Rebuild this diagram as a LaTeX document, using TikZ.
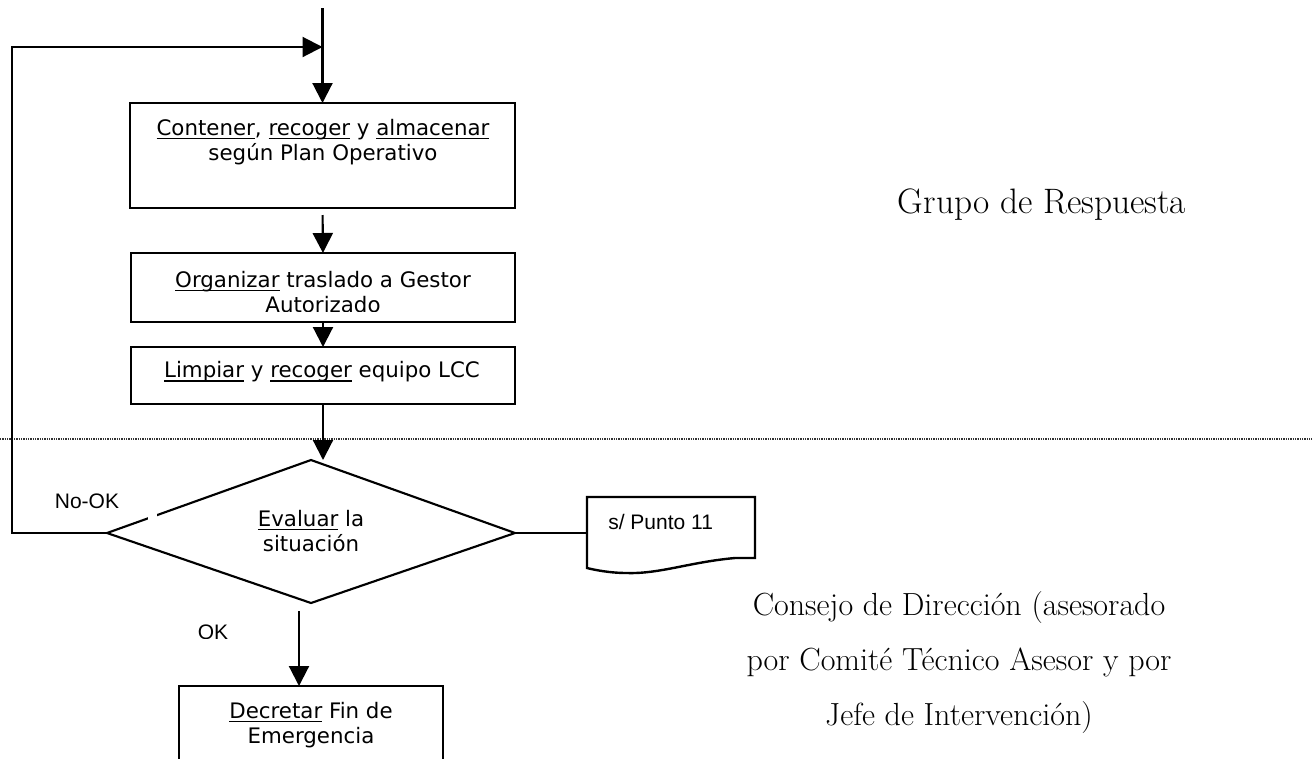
\documentclass[tikz,border=0pt]{standalone}
\usepackage{fontspec}
\newfontfamily\dvs{DejaVu Sans}
\newfontfamily\lbs{Liberation Sans}
\usetikzlibrary{arrows.meta}
\newsavebox\ulbox
\newcommand{\ulx}[1]{\sbox\ulbox{#1}\rlap{\rule[-3pt]{\wd\ulbox}{1.2pt}}\usebox\ulbox}
\begin{document}
\begin{tikzpicture}[x=0.75pt, y=-0.75pt,
  box/.style={draw, line width=1.8pt, inner sep=0pt, outer sep=0pt},
  conn/.style={line width=1.6pt},
  arr/.style={conn, -{Triangle[length=15pt,width=15pt]}},
  btxt/.style={font=\dvs\fontsize{16}{18.75}\selectfont, align=center, inner sep=0pt},
  lbl/.style={font=\lbs\fontsize{15.75}{18}\selectfont, inner sep=0pt},
  side/.style={font=\fontsize{24}{41.25}\selectfont, align=center, inner sep=0pt},
  sep/.style={black!80, line width=1.8pt, dash pattern=on 1pt off 0.75pt}]
\clip (0,0) rectangle (1312,758);
\fill[white] (0,0) rectangle (1312,758);

% separator
\draw[sep] (0,439) -- (1312,439);

% boxes
\node[box, minimum width=288.75pt, minimum height=78.75pt] (b1) at (322.5,155.5) {};
\node[box, minimum width=288pt, minimum height=51.75pt] (b2) at (323,287.5) {};
\node[box, minimum width=288pt, minimum height=42.75pt] (b3) at (323,375.5) {};
\node[box, minimum width=198pt, minimum height=85.5pt] (b4) at (311,743) {};

% box texts
\node[btxt] (t1) at (323,142) {\ulx{Contener}, \ulx{recoger} y \ulx{almacenar}\\según Plan Operativo};
\begin{scope}
  \clip (131,253) rectangle (515,311);
  \node[btxt] (t2) at (323,292) {\ulx{Organizar} traslado a Gestor\\Autorizado};
\end{scope}
\node[btxt] (t3) at (322,372) {\ulx{Limpiar} y \ulx{recoger} equipo LCC};
\node[btxt] (t4) at (311,725) {\ulx{Decretar} Fin de\\Emergencia};

% decision
\coordinate (dT) at (311,460);
\coordinate (dL) at (107,533);
\coordinate (dR) at (515,533);
\coordinate (dB) at (311,603);
\draw[conn] (dT) -- (dR) -- (dB) -- (dL) -- cycle;
\node[btxt] (t5) at (311,531) {\ulx{Evaluar} la\\situación};

% document
\coordinate (docL) at (587,533);
\draw[line width=1.8pt] (587,497) -- (755,497) -- (755,558) -- (735,558)
  .. controls (690,562) and (660,574) .. (627,573)
  .. controls (610,573) and (595,570) .. (587,568) -- cycle;
\node[lbl, anchor=west] (t6) at (608,522) {s/ Punto 11};

% labels
\node[lbl] (nook) at (87,501) {No-OK};
\fill[white] (148,505) rectangle (157,521);
\begin{scope}
  \clip (150,600) rectangle (260,638);
  \node[lbl] (ok) at (213,632) {OK};
\end{scope}

% side texts
\node[side, font=\fontsize{26.5}{30}\selectfont] (grp) at (1042,205) {Grupo de Respuesta};
\node[side] (cd) at (959,662) {Consejo de Dirección (asesorado\\por Comité Técnico Asesor y por\\Jefe de Intervención)};

% connectors
\coordinate (top) at (322.5,8);
\coordinate (join) at (322.5,47);
\coordinate (lc) at (12,533);
\coordinate (okS) at (299,611);
\draw[arr] (top) -- (b1.north);
\draw[arr] (dL) -- (lc) |- (join);
\draw[arr, shorten <=5.25pt] (b1.south) -- (b2.north);
\draw[arr] (b2.south) -- (b3.north);
\draw[arr] (b3.south) -- (b3.south |- dT);
\draw[arr] (okS) -- (okS |- b4.north);
\draw[conn] (dR) -- (docL);
\end{tikzpicture}
\end{document}
